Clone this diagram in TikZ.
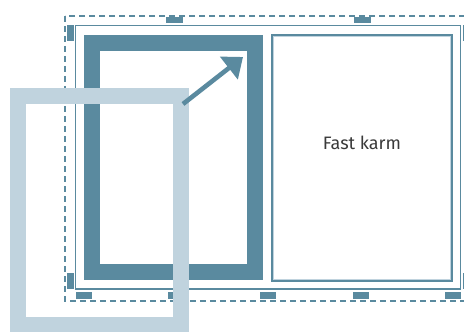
\documentclass[tikz,border=0pt]{standalone}
\usepackage{fontspec}
\setmainfont{Fira Sans}
\usepackage{xcolor}
\usetikzlibrary{arrows.meta}
\definecolor{frameblue}{HTML}{5A8A9F}
\definecolor{paleblue}{HTML}{C0D3DE}
\definecolor{textgray}{HTML}{3A3A3A}

\begin{document}
\begin{tikzpicture}[x=0.5pt, y=-0.5pt,
    tab/.style={fill=frameblue, draw=none}]
    \useasboundingbox (0,0) rectangle (464,331);

    % Dashed outer border
    \draw[frameblue, line width=0.8pt, dash pattern=on 3.2pt off 1.8pt] (65,16) rectangle (490,301);

    % Tabs on the border
    \foreach \x in {166,354} {
        \fill[tab] (\x,17) rectangle ++(17,6);
    }
    \foreach \x in {76,168,260,353,445} {
        \fill[tab] (\x,292) rectangle ++(16,7);
    }
    \foreach \y in {25,273} {
        \fill[tab] (67,\y) rectangle ++(7,16);
        \fill[tab] (463,\y) rectangle ++(7,16);
    }

    % Inner solid border
    \draw[frameblue, line width=0.75pt] (75.7,25.7) rectangle (460.5,289);

    % Thick frame
    \draw[frameblue, line width=8pt] (92,43) rectangle (255,272);

    % Right panel
    \draw[frameblue, line width=0.7pt] (272,35) rectangle (452,281);
    \draw[paleblue, line width=0.5pt] (273.6,36.6) rectangle (450.4,279.4);
    \node[text=textgray, font=\fontsize{9}{11}\selectfont] (label) at (362,143) {Fast karm};

    % Pale frame
    \draw[paleblue, line width=8pt] (18,96) rectangle (181,325);

    % Arrow
    \coordinate (tail) at (183,104);
    \coordinate (tip) at (243,57);
    \draw[frameblue, line width=2.3pt, -{Triangle[length=9pt, width=14pt]}] (tail) -- (tip);
\end{tikzpicture}
\end{document}
